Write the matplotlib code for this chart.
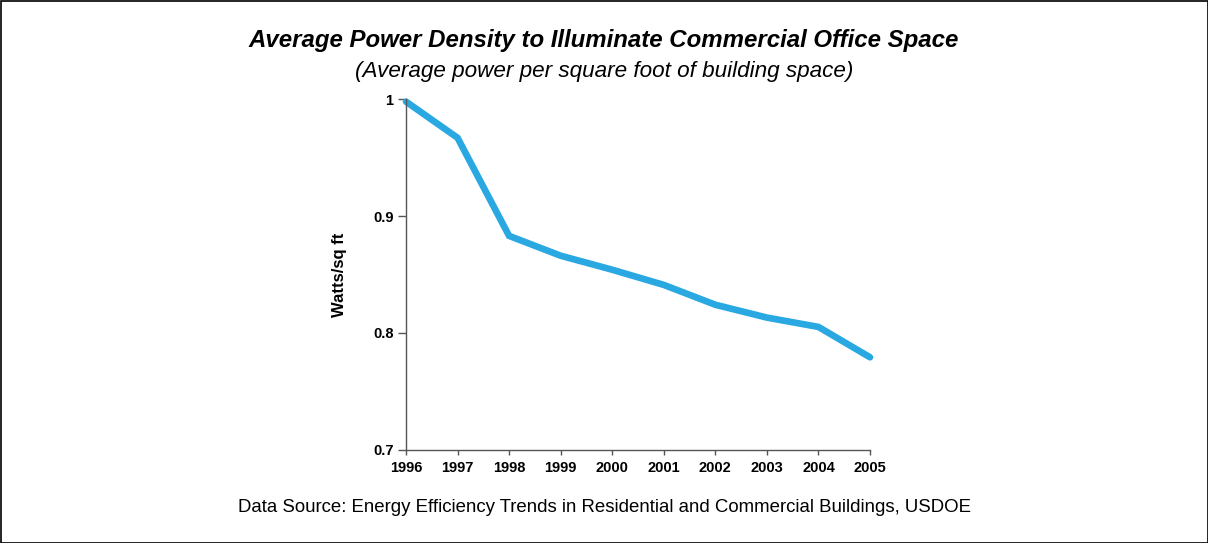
import matplotlib
matplotlib.use("Agg")
import matplotlib.pyplot as plt
from matplotlib.patches import Rectangle

years = [1996, 1997, 1998, 1999, 2000, 2001, 2002, 2003, 2004, 2005]
watts = [0.998, 0.967, 0.883, 0.866, 0.854, 0.841, 0.824, 0.813, 0.805, 0.779]
yticks = [0.7, 0.8, 0.9, 1.0]
ytick_labels = ["0.7", "0.8", "0.9", "1"]

title = "Average Power Density to Illuminate Commercial Office Space"
subtitle = "(Average power per square foot of building space)"
source = "Data Source: Energy Efficiency Trends in Residential and Commercial Buildings, USDOE"

plt.rcParams['font.family'] = ['Liberation Sans', 'DejaVu Sans']

fig = plt.figure(figsize=(12.08, 5.43), dpi=100)
ax = fig.add_axes([406/1208, 1 - 449.5/543, (870-406)/1208, (449.5-99.3)/543])

ax.plot(years, watts, color="#29A8E2", lw=4.8, solid_joinstyle="miter",
        solid_capstyle="round", clip_on=False)
ax.set_xlim(1996, 2005)
ax.set_ylim(0.7, 1.0)
ax.set_xticks(years)
ax.set_xticklabels([str(y) for y in years], fontsize=10.5, fontweight="bold")
ax.set_yticks(yticks)
ax.set_yticklabels(ytick_labels, fontsize=10.5, fontweight="bold")
for s in ["top", "right"]:
    ax.spines[s].set_visible(False)
for s in ["left", "bottom"]:
    ax.spines[s].set_color("#555555")
    ax.spines[s].set_linewidth(1.0)
ax.tick_params(axis="both", colors="#555555", labelcolor="black", width=1.0)
ax.tick_params(axis="x", length=3.5, pad=5)
ax.tick_params(axis="y", length=6, pad=3)
ax.set_ylabel("Watts/sq ft", fontsize=12, fontweight="bold", labelpad=19)

fig.text(0.5, 1 - 40/543, title, ha="center", va="center", fontsize=17.3, fontweight="bold", style="italic")
fig.text(0.5, 1 - 72/543, subtitle, ha="center", va="center", fontsize=16.2, style="italic")
fig.text(0.5, 1 - 508/543, source, ha="center", va="center", fontsize=13.4)

fig.patches.append(Rectangle((0.5/1208, 0.5/543), 1 - 1/1208, 1 - 1/543, transform=fig.transFigure,
                             fill=False, edgecolor="black", lw=1.2))

fig.savefig("out.png", dpi=100)
